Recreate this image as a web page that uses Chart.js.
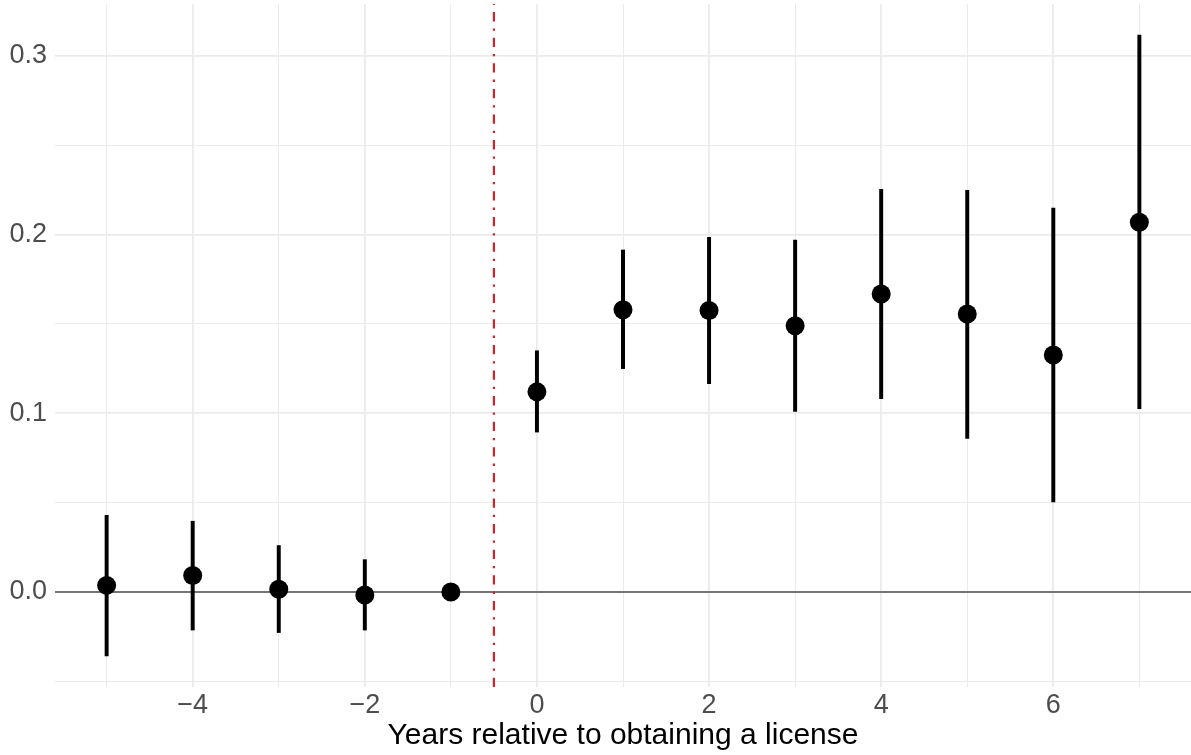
<!DOCTYPE html>
<html>
<head>
<meta charset="utf-8">
<script src="https://cdn.jsdelivr.net/npm/chart.js@4"></script>
<style>
  html, body { margin: 0; padding: 0; background: #ffffff; }
  #wrap { width: 1191px; height: 755px; }
</style>
</head>
<body>
<div id="wrap"><canvas id="c" width="1191" height="755"></canvas></div>
<script>
// ---- data ----
const years    = [-5, -4, -3, -2, -1, 0, 1, 2, 3, 4, 5, 6, 7];
const estimate = [0.0037, 0.0092, 0.0015, -0.0017, 0, 0.112, 0.158, 0.1575, 0.149, 0.1668, 0.1556, 0.1326, 0.2069];
const ciLow    = [-0.0358, -0.0213, -0.0227, -0.0213, 0, 0.0895, 0.125, 0.1166, 0.101, 0.1082, 0.086, 0.0504, 0.1026];
const ciHigh   = [0.0429, 0.0396, 0.026, 0.0181, 0, 0.135, 0.1914, 0.1985, 0.197, 0.2253, 0.2248, 0.2149, 0.3117];
const xTickLabels = [-4, -2, 0, 2, 4, 6];
const yTickLabels = [0.0, 0.1, 0.2, 0.3];
const treatmentLine = -0.5;
const xTitle = 'Years relative to obtaining a license';

// ---- axis ranges (ggplot-style 5% expansion) ----
const xLo = Math.min(...years), xHi = Math.max(...years);
const xPad = 0.05 * (xHi - xLo);
const xMin = xLo - xPad, xMax = xHi + xPad;
const yLo = Math.min(...ciLow, ...estimate), yHi = Math.max(...ciHigh, ...estimate);
const yPad = 0.05 * (yHi - yLo);
const yMin = yLo - yPad, yMax = yHi + yPad;

const FONT = '"Liberation Sans", Arial, Helvetica, sans-serif';
const fmtNum = (v, d) => {
  const s = Math.abs(v).toFixed(d);
  return (v < -1e-9 ? '\u2212' : '') + s;
};
const isLabelX = v => xTickLabels.some(t => Math.abs(t - v) < 1e-6);
const isLabelY = v => yTickLabels.some(t => Math.abs(t - v) < 1e-6);

const pointData = years.map((x, i) => ({ x: x, y: estimate[i] }));
const barData = years.map((x, i) => ({ x: x, y: [ciLow[i], ciHigh[i]] }));

new Chart(document.getElementById('c'), {
  data: {
    datasets: [
      {
        type: 'scatter',
        label: 'estimate',
        data: pointData,
        pointRadius: 9.5,
        pointHoverRadius: 9.5,
        pointBackgroundColor: '#000000',
        pointBorderWidth: 0,
        borderWidth: 0,
        order: 0
      },
      {
        type: 'bar',
        label: 'ci',
        data: barData,
        backgroundColor: '#000000',
        borderWidth: 0,
        barThickness: 3.3,
        order: 1
      },
      {
        type: 'scatter',
        label: 'vline',
        data: [{ x: treatmentLine, y: yMin }, { x: treatmentLine, y: yMax }],
        showLine: true,
        borderColor: '#CD2626',
        borderWidth: 2.2,
        borderDash: [9.3, 7, 2.3, 7],
        borderCapStyle: 'butt',
        pointRadius: 0,
        pointHoverRadius: 0,
        order: 2
      },
      {
        type: 'scatter',
        label: 'hline',
        data: [{ x: xMin, y: 0 }, { x: xMax, y: 0 }],
        showLine: true,
        borderColor: '#4D4D4D',
        borderWidth: 1.7,
        pointRadius: 0,
        pointHoverRadius: 0,
        order: 3
      }
    ]
  },
  options: {
    responsive: false,
    devicePixelRatio: 1,
    animation: false,
    events: [],
    layout: { autoPadding: false, padding: { top: 4, left: 0, right: 0, bottom: 0 } },
    plugins: { legend: { display: false }, tooltip: { enabled: false } },
    scales: {
      x: {
        type: 'linear',
        position: 'bottom',
        min: xMin,
        max: xMax,
        offset: false,
        border: { display: false },
        grid: {
          offset: false,
          drawTicks: false,
          tickLength: 0,
          color: '#EBEBEB',
          lineWidth: ctx => (ctx.tick && isLabelX(ctx.tick.value)) ? 1.8 : 1.0
        },
        ticks: {
          stepSize: 1,
          includeBounds: false,
          autoSkip: false,
          maxRotation: 0,
          padding: 2,
          color: '#4D4D4D',
          font: { family: FONT, size: 27 },
          callback: v => isLabelX(v) ? fmtNum(v, 0) : ''
        },
        title: {
          display: true,
          text: xTitle,
          color: '#000000',
          font: { family: FONT, size: 30 },
          padding: { top: 0, bottom: 1 }
        },
        afterFit: s => {
          s.height = 68;
          s.paddingLeft = 0; s.paddingRight = 0; s.paddingTop = 0; s.paddingBottom = 0;
        }
      },
      y: {
        type: 'linear',
        position: 'left',
        min: yMin,
        max: yMax,
        border: { display: false },
        grid: {
          offset: false,
          drawTicks: false,
          tickLength: 0,
          color: '#EBEBEB',
          lineWidth: ctx => (ctx.tick && isLabelY(ctx.tick.value)) ? 1.8 : 1.0
        },
        ticks: {
          stepSize: 0.05,
          includeBounds: false,
          autoSkip: false,
          padding: 8,
          color: '#4D4D4D',
          font: { family: FONT, size: 27 },
          callback: v => isLabelY(v) ? fmtNum(v, 1) : ''
        },
        afterFit: s => {
          s.width = 55;
          s.paddingLeft = 0; s.paddingRight = 0; s.paddingTop = 0; s.paddingBottom = 0;
        }
      }
    }
  }
});
</script>
</body>
</html>
